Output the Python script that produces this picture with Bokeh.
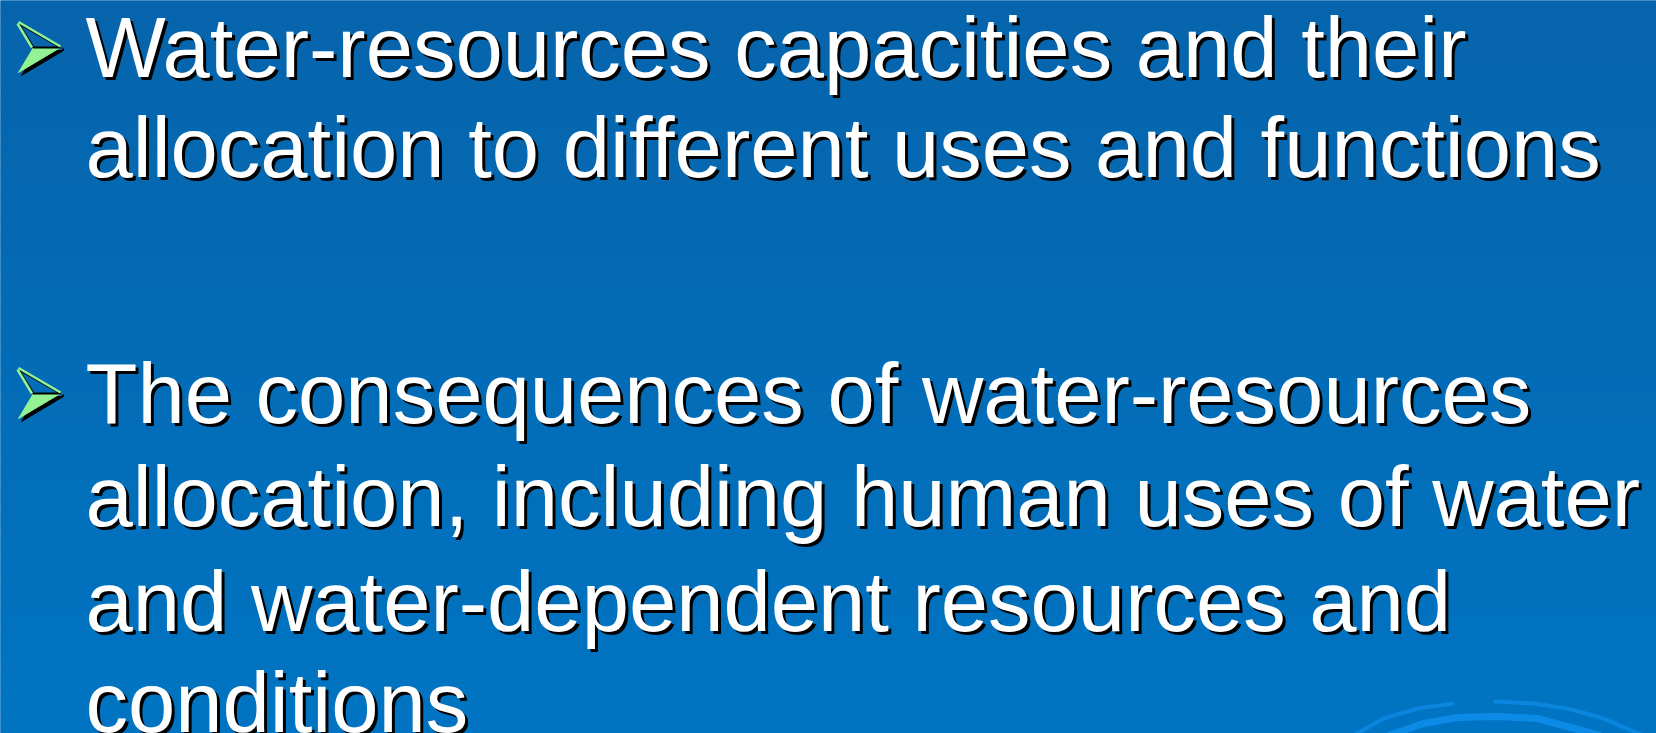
from bokeh.plotting import figure
from bokeh.models import Range1d
from bokeh.embed import file_html
from bokeh.resources import INLINE
from bokeh.core.properties import value

# ---- content ----
text_lines = [
    "Water-resources capacities and their",
    "allocation to different uses and functions",
    "The consequences of water-resources",
    "allocation, including human uses of water",
    "and water-dependent resources and",
    "conditions",
]
baselines = [73, 173, 419, 522, 627, 728]
text_x = [85, 85, 85, 85, 85, 85]
bullet_baselines = [73, 419]

# arrow bullet shape (relative to baseline)
arrow_top_x = [18, 60, 33]
arrow_top_y = [-50, -26, -26]
arrow_bot_x = [33, 60, 18]
arrow_bot_y = [-26, -26, -1]

# decorative arcs (bottom right)
arc1a_x = [1353, 1383, 1417, 1453]
arc1a_y = [735, 718, 708, 703]
arc1b_x = [1493, 1533, 1567, 1600, 1643]
arc1b_y = [701, 703, 708, 717, 735]
arc2_x = [1388, 1423, 1457, 1497, 1537, 1570, 1600]
arc2_y = [735, 723, 717, 716, 718, 727, 735]

W, H = 1656, 733
p = figure(width=W, height=H, output_backend="svg", toolbar_location=None,
           x_range=Range1d(0, W), y_range=Range1d(H, 0), min_border=0)
p.axis.visible = False
p.grid.visible = False
p.outline_line_color = None
p.background_fill_color = "#0568b2"
p.border_fill_color = "#0568b2"

# background gradient
n = 60
top_c = (6, 100, 172)
bot_c = (0, 116, 194)
tops, bots, cols = [], [], []
for i in range(n):
    t = i / (n - 1)
    r = round(top_c[0] + (bot_c[0] - top_c[0]) * t)
    g = round(top_c[1] + (bot_c[1] - top_c[1]) * t)
    b = round(top_c[2] + (bot_c[2] - top_c[2]) * t)
    tops.append(i * H / n - 0.5)
    bots.append((i + 1) * H / n + 0.5)
    cols.append("#%02x%02x%02x" % (r, g, b))
p.quad(left=-2, right=W + 2, top=tops, bottom=bots, fill_color=cols, line_color=None)

# arcs
p.line(arc1a_x, arc1a_y, line_color="#0a86de", line_width=4)
p.line(arc1b_x, arc1b_y, line_color="#0a86de", line_width=4)
p.line(arc2_x, arc2_y, line_color="#0b8be6", line_width=7)

# bullets
for b in bullet_baselines:
    bx = arrow_bot_x
    by = [v + b for v in arrow_bot_y]
    tx = arrow_top_x
    ty = [v + b for v in arrow_top_y]
    p.patch([v + 3 for v in bx], [v + 3 for v in by], fill_color="black", line_color="black", line_width=1)
    p.line([tx[1] + 2, tx[1] + 3], [ty[1] + 1, ty[1] + 3], line_color="black", line_width=2)
    p.patch(bx, by, fill_color="#93f293", line_color="#93f293", line_width=1)
    p.patch(tx, ty, fill_color=None, line_color="black", line_width=2)
    p.line([tx[0], tx[1]], [ty[0] - 1.5, ty[1] - 1.0], line_color="#93f293", line_width=2.5)
    p.line([tx[0] - 1, tx[2] - 1.5], [ty[0], ty[2]], line_color="#93f293", line_width=2.5)

# text shadow then text
font = value("Liberation Sans")
dy = -26
p.text(x=[v + 3 for v in text_x], y=[v + 3 for v in baselines], text=text_lines,
       text_font=font, text_font_size="85px", text_color="black",
       text_baseline="alphabetic", text_align="left", y_offset=dy)
p.text(x=text_x, y=baselines, text=text_lines,
       text_font=font, text_font_size="85px", text_color="white",
       text_baseline="alphabetic", text_align="left", y_offset=dy)

html = file_html(p, INLINE)
html = html.replace("<body>", '<body style="margin:0;background:#0568b2">', 1)
open("out.html", "w").write(html)
